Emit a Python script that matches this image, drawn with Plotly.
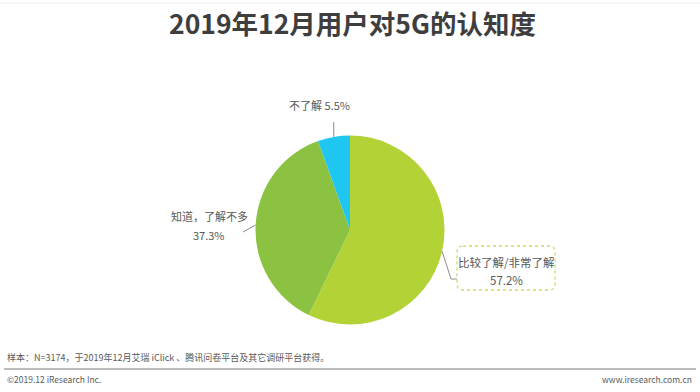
import math
import plotly.graph_objects as go

title = "2019年12月用户对5G的认知度"
categories = ["比较了解/非常了解", "知道，了解不多", "不了解"]
values = [57.2, 37.3, 5.5]
colors = ["#b3d236", "#8bc241", "#1fc7f0"]
source_note = "样本：N=3174，于2019年12月艾瑞 iClick 、腾讯问卷平台及其它调研平台获得。"
copyright_note = "©2019.12 iResearch Inc."
site_note = "www.iresearch.com.cn"

W, H = 700, 392
CX, CY, R = 350, 230, 94.5
FONT = "Noto Sans CJK SC, Noto Sans, sans-serif"


def px(x):
    return x / W


def py(y):
    return 1 - y / H


fig = go.Figure()
fig.add_trace(go.Pie(
    labels=categories, values=values, sort=False, direction="clockwise", rotation=0,
    marker=dict(colors=colors, line=dict(color="white", width=0)),
    textinfo="none", hoverinfo="label+percent", showlegend=False,
    domain=dict(x=[px(CX - R), px(CX + R)], y=[py(CY + R), py(CY - R)]),
))

# anchor points on the pie at the middle of each slice
total = sum(values)
anchors = []
cum = 0
for v in values:
    mid = (cum + v / 2) / total * 2 * math.pi
    anchors.append((CX + R * math.sin(mid), CY - R * math.cos(mid)))
    cum += v

shapes = []
annotations = []
txt_color = "#595959"
line_color = "#8c8c8c"


def note(x, y, text, size, color=txt_color, xanchor="center", yanchor="middle", align="center"):
    annotations.append(dict(x=px(x), y=py(y), xref="paper", yref="paper", text=text,
                            showarrow=False, xanchor=xanchor, yanchor=yanchor, align=align,
                            font=dict(family=FONT, size=size, color=color)))


# slice 0 label (boxed, right)
ax0, ay0 = anchors[0]
bx0, by0, bx1, by1, rr = 457, 246, 555, 290, 6
shapes.append(dict(type="path", xref="paper", yref="paper",
                   path=f"M {px(ax0)},{py(ay0)} L {px(451)},{py(279)} L {px(bx0)},{py(279)}",
                   line=dict(color=line_color, width=1)))
rect = (f"M {px(bx0+rr)},{py(by0)} L {px(bx1-rr)},{py(by0)} Q {px(bx1)},{py(by0)} {px(bx1)},{py(by0+rr)} "
        f"L {px(bx1)},{py(by1-rr)} Q {px(bx1)},{py(by1)} {px(bx1-rr)},{py(by1)} "
        f"L {px(bx0+rr)},{py(by1)} Q {px(bx0)},{py(by1)} {px(bx0)},{py(by1-rr)} "
        f"L {px(bx0)},{py(by0+rr)} Q {px(bx0)},{py(by0)} {px(bx0+rr)},{py(by0)} Z")
shapes.append(dict(type="path", xref="paper", yref="paper", path=rect,
                   line=dict(color="#c6dd6a", width=1.3, dash="dot"), fillcolor="white"))
note((bx0 + bx1) / 2, 262, categories[0], 11.5)
note((bx0 + bx1) / 2, 280, f"{values[0]}%", 11.5)

# slice 1 label (left)
ax1, ay1 = anchors[1]
shapes.append(dict(type="line", xref="paper", yref="paper",
                   x0=px(ax1), y0=py(ay1), x1=px(243), y1=py(232),
                   line=dict(color=line_color, width=1)))
note(209, 216, categories[1], 11)
note(209, 235, f"{values[1]}%", 11)

# slice 2 label (top)
ax2, ay2 = anchors[2]
shapes.append(dict(type="line", xref="paper", yref="paper",
                   x0=px(ax2), y0=py(ay2), x1=px(ax2), y1=py(122),
                   line=dict(color=line_color, width=1)))
note(319, 105, f"{categories[2]} {values[2]}%", 11)

# title
note(W / 2 + 2, 23, f"<b>{title}</b>", 26.5, color="#3e3e3e")
# footer
note(5, 357, source_note, 9, xanchor="left")
note(5, 379, copyright_note, 8.5, xanchor="left")
note(694, 379, site_note, 8.5, xanchor="right")
shapes.append(dict(type="line", xref="paper", yref="paper", x0=px(4), x1=px(696), y0=py(369), y1=py(369),
                   line=dict(color="#a6a6a6", width=1.5)))
shapes.append(dict(type="line", xref="paper", yref="paper", x0=0, x1=1, y0=py(3), y1=py(3),
                   line=dict(color="#f0f0f0", width=1)))

fig.update_layout(width=W, height=H, margin=dict(l=0, r=0, t=0, b=0),
                  paper_bgcolor="white", plot_bgcolor="white",
                  shapes=shapes, annotations=annotations)
fig.write_html("out.html", config={"displayModeBar": False},
               post_script="document.body.style.margin='0';")
